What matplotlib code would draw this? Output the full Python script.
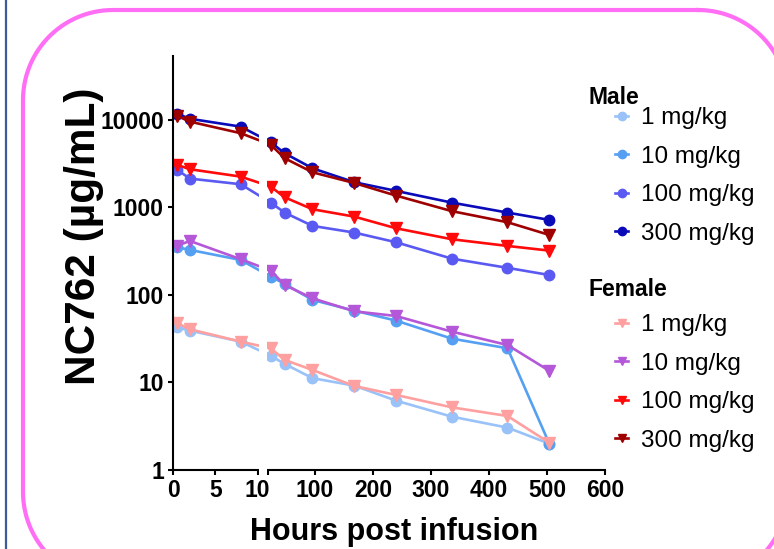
import numpy as np
import matplotlib
matplotlib.use("Agg")
from matplotlib import pyplot as plt
from matplotlib.patches import Rectangle
from matplotlib.transforms import IdentityTransform

plt.rcParams['font.family'] = ['Liberation Sans', 'DejaVu Sans']

# sampling times (hours post infusion)
times = [0.5, 2, 8, 24, 48, 96, 168, 240, 336, 432, 504]

# NC762 concentrations
male_1 = [42.8, 39.1, 29.3, 20.2, 16.3, 11.2, 9.2, 6.2, 4.07, 3.05, 2.0]
male_10 = [351, 327, 251, 162, 134, 87.7, 66.2, 50.9, 31.7, 24.6, 2.0]
male_100 = [2680, 2135, 1840, 1135, 873, 615, 516, 400, 260, 204, 169]
male_300 = [11700, 10300, 8380, 5560, 4160, 2800, 1940, 1545, 1135, 873, 720]

female_1 = [47.5, 40.5, 29.3, 24.6, 18.1, 13.9, 9.12, 7.2, 5.2, 4.14, 2.05]
female_10 = [365, 414, 256, 190, 130, 91.6, 65, 57.5, 38.1, 26.8, 13.6]
female_100 = [3060, 2730, 2250, 1730, 1306, 953, 785, 578, 433, 363, 321]
female_300 = [11100, 9550, 7050, 5200, 3650, 2520, 1900, 1365, 907, 677, 485]

dose_labels = ['1 mg/kg', '10 mg/kg', '100 mg/kg', '300 mg/kg']
male_colors = ['#99c2f8', '#55a0f2', '#5a5af2', '#0a0ab8']
female_colors = ['#ffa0a0', '#b457d8', '#ff0a0a', '#9e0000']

x_ticks = [0, 5, 10, 20, 100, 200, 300, 400, 500, 600]
x_tick_labels = ['0', '5', '10', '', '100', '200', '300', '400', '500', '600']
y_ticks = [1, 10, 100, 1000, 10000]
y_tick_labels = ['1', '10', '100', '1000', '10000']


# broken x axis: 0-10 h stretched, then 20-600 h
def fwd(t):
    t = np.asarray(t, dtype=float)
    return np.where(t <= 10, 8.45 * t,
                    np.where(t <= 20, 84.5 + 1.08 * (t - 10), 95.3 + 0.58 * (t - 20)))


def inv(p):
    p = np.asarray(p, dtype=float)
    return np.where(p <= 84.5, p / 8.45,
                    np.where(p <= 95.3, 10 + (p - 84.5) / 1.08, 20 + (p - 95.3) / 0.58))


def rounded_rect(x0, y0, x1, y1, r, n=30):
    # outline of a rounded rectangle in pixel coords (y down)
    pts = []
    corners = [(x1 - r, y0 + r, -90, 0), (x1 - r, y1 - r, 0, 90),
               (x0 + r, y1 - r, 90, 180), (x0 + r, y0 + r, 180, 270)]
    for cx, cy, a0, a1 in corners:
        a = np.radians(np.linspace(a0, a1, n))
        pts += list(zip(cx + r * np.cos(a), cy + r * np.sin(a)))
    pts.append(pts[0])
    return np.array(pts)


W, H = 774, 549
fig = plt.figure(figsize=(W / 100, H / 100), dpi=100)
ax = fig.add_axes([173 / W, 1 - 470 / H, (605 - 173) / W, (470 - 56) / H])

ax.set_xscale('function', functions=(fwd, inv))
ax.set_yscale('log')

male_lines = []
for vals, col, lab in zip([male_1, male_10, male_100, male_300], male_colors, dose_labels):
    ln, = ax.plot(times, vals, color=col, marker='o', markersize=7.5, lw=1.9, label=lab)
    male_lines.append(ln)
female_lines = []
for vals, col, lab in zip([female_1, female_10, female_100, female_300], female_colors, dose_labels):
    ln, = ax.plot(times, vals, color=col, marker='v', markersize=8, lw=1.9, label=lab)
    female_lines.append(ln)

ax.set_xlim(0, 600)
ax.set_ylim(1, 10 ** 4.73)
ax.set_xticks(x_ticks)
ax.set_xticklabels(x_tick_labels)
ax.set_yticks(y_ticks)
ax.set_yticklabels(y_tick_labels)
ax.yaxis.set_minor_locator(matplotlib.ticker.NullLocator())

for s in ['top', 'right']:
    ax.spines[s].set_visible(False)
for s in ['left', 'bottom']:
    ax.spines[s].set_linewidth(1.5)
ax.tick_params(width=1.5, length=3.5, pad=3, labelsize=16.5)
for lbl in ax.get_xticklabels() + ax.get_yticklabels():
    lbl.set_fontweight('bold')

# gap of the broken axis
ax.add_patch(Rectangle((10.9, -0.012), 19.1 - 10.9, 1.05, transform=ax.get_xaxis_transform(),
                       facecolor='white', edgecolor='none', zorder=5, clip_on=False))

fig.text(84 / W, 1 - 236 / H, 'NC762 (µg/mL)', rotation=90, ha='center', va='center',
         fontsize=30.5, fontweight='bold')
fig.text(394 / W, 1 - 540 / H, 'Hours post infusion', ha='center', va='baseline',
         fontsize=22, fontweight='bold')

# legends
fig.text(588 / W, 1 - 97 / H, 'Male', ha='left', va='center', fontsize=16.5, fontweight='bold')
fig.text(588 / W, 1 - 290 / H, 'Female', ha='left', va='center', fontsize=16.5, fontweight='bold')
leg_kw = dict(bbox_transform=fig.transFigure, frameon=False, fontsize=17.5, borderpad=0,
              borderaxespad=0, handlelength=0.55, handletextpad=0.5, labelspacing=0.68,
              markerscale=0.8, loc='upper left')
leg1 = ax.legend(handles=male_lines, bbox_to_anchor=(615 / W, 1 - 107 / H), **leg_kw)
ax.add_artist(leg1)
ax.legend(handles=female_lines, bbox_to_anchor=(615 / W, 1 - 314 / H), **leg_kw)

# decorative frame and left rule
pts = rounded_rect(23, 10, 788, 582, 90)
fig.add_artist(plt.Line2D(pts[:, 0], H - pts[:, 1], color='#ff6ef4', lw=3,
                          transform=IdentityTransform()))
fig.add_artist(plt.Line2D([5.5 / W, 5.5 / W], [0, 1], color='#3c5a9c', lw=1.6,
                          transform=fig.transFigure))

fig.savefig('out.png', dpi=100)
